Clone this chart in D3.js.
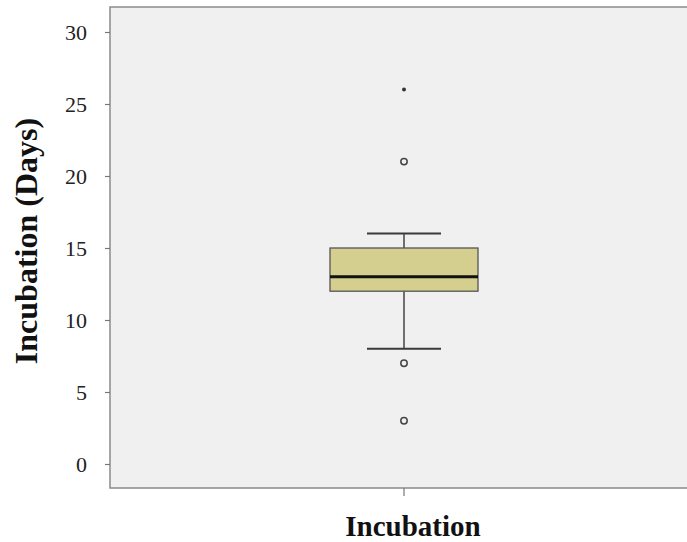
<!DOCTYPE html>
<html><head><meta charset="utf-8">
<script src="https://cdn.jsdelivr.net/npm/d3@7"></script>
<style>body{margin:0;background:#fff}svg{display:block}</style>
</head><body>
<script>
const category = ["Incubation"];
const yTicks = [0, 5, 10, 15, 20, 25, 30];
const q1 = [12];
const median = [13];
const q3 = [15];
const whiskerLow = [8];
const whiskerHigh = [16];
const outliers = [21, 7, 3];
const extremes = [26];

const W = 687, H = 542;
const svg = d3.select("body").append("svg").attr("width", W).attr("height", H);
svg.append("rect").attr("width", W).attr("height", H).attr("fill", "#fff");

const plot = {left: 110, right: 700, top: 7, bottom: 488};
const y = d3.scaleLinear().domain([0, 30]).range([464, 32]);
const x = d3.scaleBand().domain(category).range([plot.left, 698]);

svg.append("rect").attr("x", plot.left).attr("y", plot.top)
  .attr("width", plot.right - plot.left).attr("height", plot.bottom - plot.top)
  .attr("fill", "#f0f0f0").attr("stroke", "#8a8a8a").attr("stroke-width", 1.5);

const yAxis = d3.axisLeft(y).tickValues(yTicks).tickSize(5).tickPadding(18);
const gy = svg.append("g").attr("transform", `translate(${plot.left},0)`).call(yAxis);
gy.select(".domain").remove();
gy.selectAll(".tick line").attr("stroke", "#777").attr("stroke-width", 1.2);
gy.selectAll(".tick text").attr("font-family", "Liberation Serif, Times New Roman, serif")
  .attr("font-size", 22).attr("fill", "#222");

const xAxis = d3.axisBottom(x).tickSize(8).tickFormat("");
const gx = svg.append("g").attr("transform", `translate(0,${plot.bottom})`).call(xAxis);
gx.select(".domain").remove();
gx.selectAll(".tick line").attr("stroke", "#777").attr("stroke-width", 1.2);

const center = 404;
const boxW = 148, capW = 74;

const g = svg.append("g");
g.append("line").attr("x1", center).attr("x2", center)
  .attr("y1", y(whiskerHigh[0])).attr("y2", y(q3[0])).attr("stroke", "#444").attr("stroke-width", 1.5);
g.append("line").attr("x1", center).attr("x2", center)
  .attr("y1", y(q1[0])).attr("y2", y(whiskerLow[0])).attr("stroke", "#444").attr("stroke-width", 1.5);
[whiskerHigh[0], whiskerLow[0]].forEach(v => {
  g.append("line").attr("x1", center - capW / 2).attr("x2", center + capW / 2)
    .attr("y1", y(v)).attr("y2", y(v)).attr("stroke", "#3a3a3a").attr("stroke-width", 2);
});
g.append("rect").attr("x", center - boxW / 2).attr("y", y(q3[0]))
  .attr("width", boxW).attr("height", y(q1[0]) - y(q3[0]))
  .attr("fill", "#d4cf8e").attr("stroke", "#555").attr("stroke-width", 1.3);
g.append("line").attr("x1", center - boxW / 2).attr("x2", center + boxW / 2)
  .attr("y1", y(median[0])).attr("y2", y(median[0])).attr("stroke", "#111").attr("stroke-width", 3);

g.selectAll(".out").data(outliers).enter().append("circle")
  .attr("cx", center).attr("cy", d => y(d)).attr("r", 3.2)
  .attr("fill", "none").attr("stroke", "#444").attr("stroke-width", 1.5);
g.selectAll(".ext").data(extremes).enter().append("circle")
  .attr("cx", center).attr("cy", d => y(d)).attr("r", 2)
  .attr("fill", "#333");

svg.append("text").attr("x", 413).attr("y", 536).attr("text-anchor", "middle")
  .attr("font-family", "Liberation Serif, Times New Roman, serif").attr("font-weight", "bold")
  .attr("font-size", 29).attr("fill", "#111").text(category[0]);
svg.append("text").attr("transform", "translate(37,241) rotate(-90)").attr("text-anchor", "middle")
  .attr("font-family", "Liberation Serif, Times New Roman, serif").attr("font-weight", "bold")
  .attr("font-size", 32).attr("fill", "#111").text("Incubation (Days)");
</script>
</body></html>
